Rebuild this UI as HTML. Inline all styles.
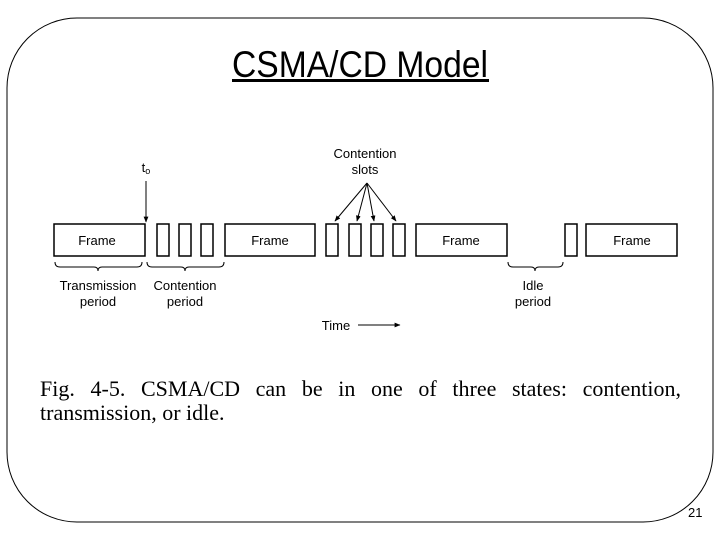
<!DOCTYPE html>
<html><head><meta charset="utf-8"><style>
html,body{margin:0;padding:0;background:#fff;}
svg{display:block;position:absolute;left:0;top:0;}
.cap{position:absolute;left:40px;top:377px;width:641px;font-family:"Liberation Serif",serif;font-size:22px;line-height:24px;text-align:justify;text-align-last:left;}
.l1{text-align:justify;text-align-last:justify;}
</style></head><body>
<svg width="720" height="540" viewBox="0 0 720 540" xmlns="http://www.w3.org/2000/svg">
<defs>
<marker id="ah" viewBox="0 0 10 10" refX="9" refY="5" markerWidth="6" markerHeight="6" orient="auto">
<path d="M0,1 L10,5 L0,9 z" fill="#000"/></marker>
</defs>
<rect x="7" y="18" width="706" height="504" rx="70" ry="70" fill="none" stroke="#000" stroke-width="1"/>
<text x="360" y="77" font-family="Liberation Sans, sans-serif" font-size="37" text-anchor="middle" textLength="256" lengthAdjust="spacingAndGlyphs">CSMA/CD Model</text>
<rect x="232" y="79" width="257" height="3" fill="#000"/>
<g fill="none" stroke="#000" stroke-width="1.5">
<rect x="54" y="224" width="91" height="32"/>
<rect x="157" y="224" width="12" height="32"/>
<rect x="179" y="224" width="12" height="32"/>
<rect x="201" y="224" width="12" height="32"/>
<rect x="225" y="224" width="90" height="32"/>
<rect x="326" y="224" width="12" height="32"/>
<rect x="349" y="224" width="12" height="32"/>
<rect x="371" y="224" width="12" height="32"/>
<rect x="393" y="224" width="12" height="32"/>
<rect x="416" y="224" width="91" height="32"/>
<rect x="565" y="224" width="12" height="32"/>
<rect x="586" y="224" width="91" height="32"/>
</g>
<g font-family="Liberation Sans, sans-serif" font-size="13" text-anchor="middle">
<text x="97" y="245">Frame</text>
<text x="270" y="245">Frame</text>
<text x="461" y="245">Frame</text>
<text x="632" y="245">Frame</text>
<text x="98" y="290">Transmission</text>
<text x="98" y="306">period</text>
<text x="185" y="290">Contention</text>
<text x="185" y="306">period</text>
<text x="533" y="290">Idle</text>
<text x="533" y="306">period</text>
<text x="365" y="158">Contention</text>
<text x="365" y="174">slots</text>
<text x="336" y="330">Time</text>
<text x="146" y="172">t<tspan font-size="9" dy="2">o</tspan></text>
</g>
<g fill="none" stroke="#000" stroke-width="1">
<path d="M55,262 Q55,267 60,267 L94,267 Q98,267 98,271 Q98,267 102,267 L137,267 Q142,267 142,262"/>
<path d="M147,262 Q147,267 152,267 L181,267 Q185,267 185,271 Q185,267 189,267 L219,267 Q224,267 224,262"/>
<path d="M508,262 Q508,267 513,267 L531,267 Q535,267 535,271 Q535,267 539,267 L558,267 Q563,267 563,262"/>
<line x1="146" y1="181" x2="146" y2="222" marker-end="url(#ah)"/>
<line x1="367" y1="183" x2="335" y2="221" marker-end="url(#ah)"/>
<line x1="367" y1="183" x2="357" y2="221" marker-end="url(#ah)"/>
<line x1="367" y1="183" x2="374" y2="221" marker-end="url(#ah)"/>
<line x1="367" y1="183" x2="396" y2="221" marker-end="url(#ah)"/>
<line x1="358" y1="325" x2="400" y2="325" marker-end="url(#ah)"/>
</g>
<text x="688" y="517" font-family="Liberation Sans, sans-serif" font-size="13">21</text>
</svg>
<div class="cap"><div class="l1">Fig. 4-5. CSMA/CD can be in one of three states: contention,</div><div>transmission, or idle.</div></div>
</body></html>
